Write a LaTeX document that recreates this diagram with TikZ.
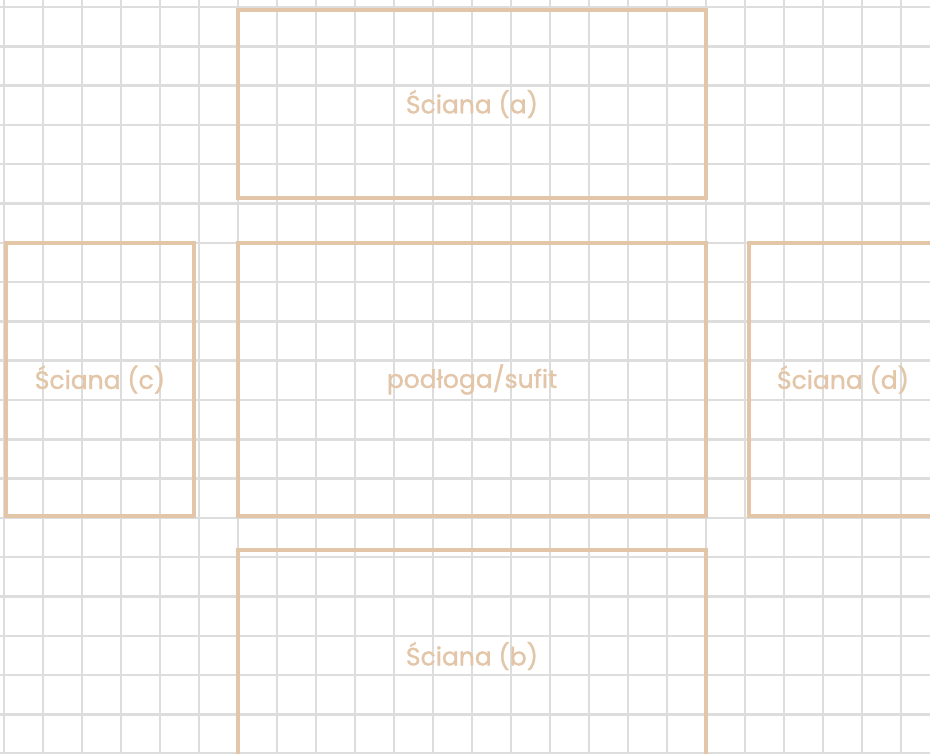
\documentclass[tikz,border=0pt]{standalone}
\usepackage{fontspec}
\setmainfont{Poppins}[UprightFeatures={FakeBold=1.2}]
\usetikzlibrary{positioning}
\definecolor{piasek}{HTML}{E3C6A8}
\definecolor{kratka}{HTML}{DDDDDD}
\tikzset{
  sciana/.style={rectangle, draw=piasek, line width=4pt, outer sep=0pt, inner sep=0pt,
                 text=piasek, font=\fontsize{25}{28}\selectfont},
  linia/.style={draw=kratka, line width=2.5pt},
}
\begin{document}
\begin{tikzpicture}[x=1pt, y=-1pt]
  \useasboundingbox (0,0) rectangle (930,754);
  \clip (0,0) rectangle (930,754);
  \fill[white] (0,0) rectangle (930,754);
  % kratka
  \foreach \k in {0,...,23} \draw[linia] (4+39*\k,0) -- (4+39*\k,754);
  \foreach \k in {0,...,19} \draw[linia] (0,7+39.3*\k) -- (930,7+39.3*\k);
  % sciany
  \node[sciana, minimum width=468pt, minimum height=273pt] (podloga) at (472,379.5) {podłoga/sufit};
  \node[sciana, minimum width=468pt, minimum height=188pt, above=45pt of podloga] (a) {Ściana (a)};
  \node[sciana, minimum width=468pt, minimum height=212pt, below=34pt of podloga] (b) {Ściana (b)};
  \node[sciana, minimum width=188pt, minimum height=273pt, left=44pt of podloga] (c) {Ściana (c)};
  \node[sciana, minimum width=188pt, minimum height=273pt, right=43pt of podloga] (d) {Ściana (d)};
\end{tikzpicture}
\end{document}
